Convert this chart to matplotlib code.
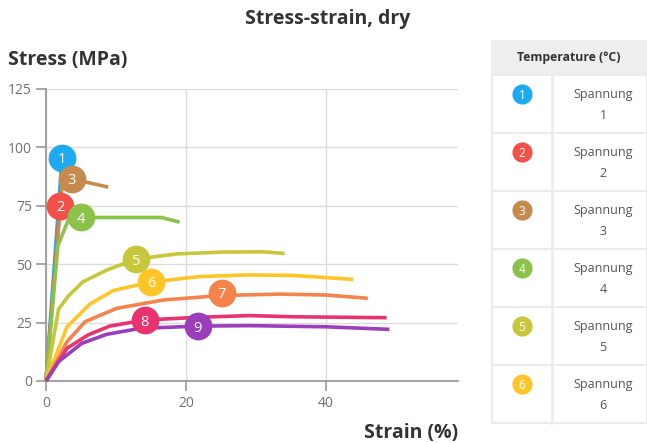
import matplotlib
matplotlib.use("Agg")
import matplotlib.pyplot as plt
from matplotlib.patches import Rectangle

plt.rcParams['font.family'] = ['Open Sans', 'DejaVu Sans']

# ---- data ----
series_names = ["1", "2", "3", "4", "5", "6", "7", "8", "9"]
colors = ["#1eaaf1", "#f4504a", "#c58b4d", "#8bc34a", "#c8c63a",
          "#ffc526", "#f5844c", "#e8336e", "#9c3dbb"]

s1_x = [0, 2.3]
s1_y = [0, 95.5]
s2_x = [0, 2.0]
s2_y = [0, 75.0]
s3_x = [0, 2.4, 3.7, 8.9]
s3_y = [0, 88.0, 86.5, 83.0]
s4_x = [0, 1.7, 3.2, 5.0, 10.0, 16.5, 19.1]
s4_y = [0, 58.0, 69.0, 70.0, 70.0, 70.0, 68.0]
s5_x = [0, 1.8, 3.2, 5.3, 8.7, 12.9, 18.7, 25.3, 31.0, 34.1]
s5_y = [0, 30.8, 36.4, 42.5, 47.5, 52.2, 54.4, 55.2, 55.3, 54.6]
s6_x = [0, 3.0, 6.3, 9.6, 15.0, 22.0, 28.7, 35.3, 43.9]
s6_y = [0, 23.2, 33.0, 38.7, 42.4, 44.7, 45.4, 45.2, 43.5]
s7_x = [0, 3.0, 5.6, 10.1, 16.8, 25.1, 33.4, 40.1, 46.0]
s7_y = [0, 16.8, 25.4, 31.1, 34.7, 36.6, 37.2, 36.8, 35.4]
s8_x = [0, 3.0, 6.0, 9.1, 14.1, 22.0, 29.1, 35.3, 48.7]
s8_y = [0, 14.0, 19.7, 23.5, 26.1, 27.3, 28.0, 27.5, 27.1]
s9_x = [0, 1.8, 5.1, 8.7, 13.4, 21.7, 29.1, 40.1, 49.1]
s9_y = [0, 8.3, 16.1, 20.0, 22.5, 23.5, 23.7, 23.2, 22.1]

xs = [s1_x, s2_x, s3_x, s4_x, s5_x, s6_x, s7_x, s8_x, s9_x]
ys = [s1_y, s2_y, s3_y, s4_y, s5_y, s6_y, s7_y, s8_y, s9_y]

# label marker positions (data coords)
label_x = [2.3, 2.0, 3.7, 5.0, 12.9, 15.0, 25.1, 14.1, 21.7]
label_y = [95.5, 75.0, 86.5, 70.0, 52.2, 42.4, 37.7, 26.1, 23.5]

y_ticks = [0, 25, 50, 75, 100, 125]
x_ticks = [0, 20, 40]

legend_labels = ["Spannung\n1", "Spannung\n2", "Spannung\n3",
                 "Spannung\n4", "Spannung\n5", "Spannung\n6"]

W, H = 647, 443
fig = plt.figure(figsize=(W / 100, H / 100), dpi=100)

ax = fig.add_axes([46 / W, 1 - 381 / H, (458 - 46) / W, (381 - 89) / H])
ax.set_xlim(0, 58.9)
ax.set_ylim(0, 125)
ax.set_yticks(y_ticks)
ax.set_xticks(x_ticks)
ax.grid(True, color="#dcdcdc", lw=1.0)
ax.set_axisbelow(True)
for sp in ["top", "right"]:
    ax.spines[sp].set_visible(False)
for sp in ["left", "bottom"]:
    ax.spines[sp].set_color("#9a9a9a")
    ax.spines[sp].set_linewidth(1.3)
ax.tick_params(axis="both", colors="#9a9a9a", labelcolor="#707070",
               labelsize=10, length=7, width=1.2)
ax.tick_params(axis="x", pad=4)
ax.tick_params(axis="y", pad=3)

for i, (x, y) in enumerate(zip(xs, ys)):
    ax.plot(x, y, color=colors[i], lw=2.6, solid_capstyle="butt",
            zorder=3, clip_on=False)
for i in range(len(series_names)):
    ax.plot([label_x[i]], [label_y[i]], "o", ms=20, color=colors[i],
            mec="none", zorder=10 + i, clip_on=False)
    ax.text(label_x[i], label_y[i], series_names[i], color="white",
            ha="center", va="center_baseline", fontsize=10.5, zorder=10 + i)

fig.text(328 / W, 1 - 19 / H, "Stress-strain, dry", ha="center", va="center",
         fontsize=14, fontweight="bold", color="#333333")
fig.text(8 / W, 1 - 60 / H, "Stress (MPa)", ha="left", va="center",
         fontsize=14, fontweight="bold", color="#333333")
fig.text(458 / W, 1 - 433 / H, "Strain (%)", ha="right", va="center",
         fontsize=14, fontweight="bold", color="#333333")

# ---- legend table ----
lax = fig.add_axes([0, 0, 1, 1], zorder=-1)
lax.set_xlim(0, W)
lax.set_ylim(H, 0)
lax.axis("off")
border = "#ececec"
lax.add_patch(Rectangle((491, 40), 156, 35, fc="#eeeeee", ec="none"))
lax.text(569, 57, "Temperature (°C)", ha="center", va="center",
         fontsize=8.8, fontweight="bold", color="#333333")
row_h = 58
top = 75
for i, lab in enumerate(legend_labels):
    y0 = top + i * row_h
    lax.add_patch(Rectangle((492, y0), 155, row_h, fc="none", ec=border, lw=1.5))
    lax.plot([552, 552], [y0, y0 + row_h], color=border, lw=2)
    lax.plot([522], [y0 + 19], "o", ms=14.5, color=colors[i], mec="none")
    lax.text(522, y0 + 19, series_names[i], ha="center", va="center_baseline",
             fontsize=8.5, color="white")
    lax.text(603, y0 + 30, lab, ha="center", va="center", fontsize=9,
             color="#555555", linespacing=1.75)

fig.savefig("out.png", dpi=100)
